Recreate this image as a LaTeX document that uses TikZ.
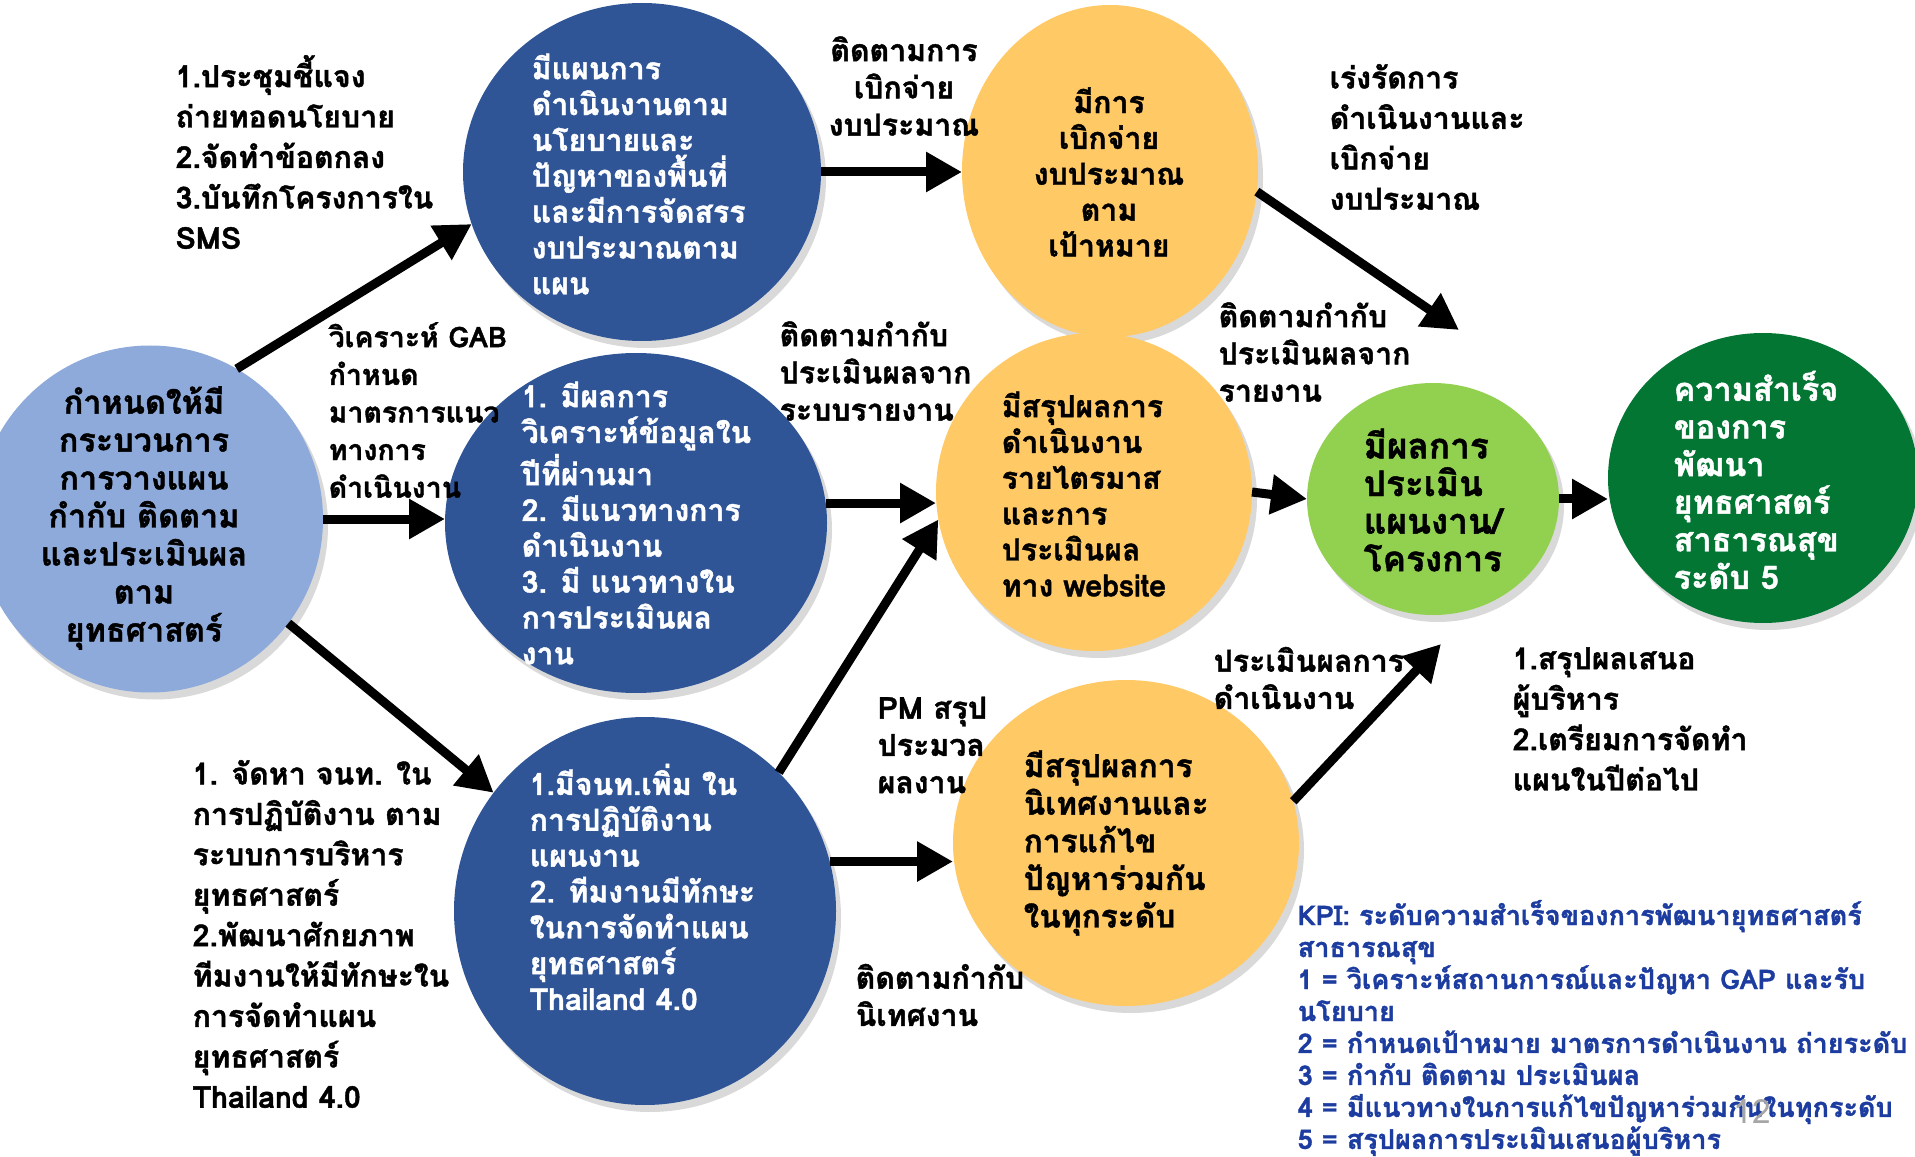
\documentclass[tikz,border=0pt]{standalone}
\usepackage{fontspec}
\setmainfont[Script=Thai, BoldFeatures={FakeBold=1.3}]{Loma}
\usetikzlibrary{arrows.meta,shapes.geometric,shadows}

\definecolor{goalblue}{RGB}{142,170,219}
\definecolor{stepblue}{RGB}{47,85,151}
\definecolor{stepyellow}{RGB}{255,201,102}
\definecolor{evalgreen}{RGB}{146,208,80}
\definecolor{topgreen}{RGB}{3,118,52}
\definecolor{kpiblue}{RGB}{28,60,160}

\begin{document}
\begin{tikzpicture}[
        x=0.1mm, y=-0.1mm,
        blob/.style={ellipse, draw=none, inner sep=0pt, outer sep=0pt,
            drop shadow={shadow xshift=0.5mm, shadow yshift=-0.7mm, opacity=0.3}},
        intext/.style={align=left, inner sep=0pt, font=\bfseries\fontsize{8.6}{10.2}\selectfont},
        lbl/.style={anchor=west, align=left, inner sep=0pt, font=\bfseries\fontsize{8.6}{10.6}\selectfont},
        loose/.style={font=\bfseries\fontsize{8.6}{11.5}\selectfont},
        flow/.style={line width=0.9mm, -{Triangle[length=3.6mm,width=3.8mm]}},
        ]
    \useasboundingbox (0,0) rectangle (1915,1157);

    % circles
    \node (goal) [blob, fill=goalblue, minimum width=34.6mm, minimum height=34.7mm] at (150,519) {};
    \node (plan) [blob, fill=stepblue, minimum width=35.8mm, minimum height=33.8mm] at (642,172) {};
    \node (analysis) [blob, fill=stepblue, minimum width=38.2mm, minimum height=34mm] at (636,523) {};
    \node (team) [blob, fill=stepblue, minimum width=38.2mm, minimum height=38.8mm] at (645,911) {};
    \node (spend) [blob, fill=stepyellow, minimum width=29.6mm, minimum height=33.2mm] at (1110,171) {};
    \node (summary) [blob, fill=stepyellow, minimum width=31.6mm, minimum height=31.8mm] at (1094,492) {};
    \node (solve) [blob, fill=stepyellow, minimum width=34.6mm, minimum height=32.6mm] at (1126,843) {};
    \node (evalplan) [blob, fill=evalgreen, minimum width=25.2mm, minimum height=23.2mm] at (1433,499) {};
    \node (success) [blob, fill=topgreen, minimum width=31mm, minimum height=29mm] at (1763,478) {};

    % texts in the circles
    \node (goaltxt) [intext, align=center, font=\bfseries\fontsize{9.2}{10.8}\selectfont] at (144,518)
        {กำหนดให้มี\\กระบวนการ\\การวางแผน\\กำกับ ติดตาม\\และประเมินผล\\ตาม\\ยุทธศาสตร์};
    \node (plantxt) [intext, text=white, anchor=west] at (531,174)
        {มีแผนการ\\ดำเนินงานตาม\\นโยบายและ\\ปัญหาของพื้นที่\\และมีการจัดสรร\\งบประมาณตาม\\แผน};
    \node (analysistxt) [intext, text=white, anchor=west] at (521,523)
        {1. มีผลการ\\วิเคราะห์ข้อมูลใน\\ปีที่ผ่านมา\\2. มีแนวทางการ\\ดำเนินงาน\\3. มี แนวทางใน\\การประเมินผล\\งาน};
    \node (teamtxt) [intext, text=white, anchor=west] at (529,887)
        {1.มีจนท.เพิ่ม ใน\\การปฏิบัติงาน\\แผนงาน\\2. ทีมงานมีทักษะ\\ในการจัดทำแผน\\ยุทธศาสตร์\\Thailand 4.0};
    \node (spendtxt) [intext, align=center] at (1109,172)
        {มีการ\\เบิกจ่าย\\งบประมาณ\\ตาม\\เป้าหมาย};
    \node (summarytxt) [intext, anchor=west] at (1001,494)
        {มีสรุปผลการ\\ดำเนินงาน\\รายไตรมาส\\และการ\\ประเมินผล\\ทาง website};
    \node (solvetxt) [intext, anchor=west, font=\bfseries\fontsize{9}{10.7}\selectfont] at (1023,843)
        {มีสรุปผลการ\\นิเทศงานและ\\การแก้ไข\\ปัญหาร่วมกัน\\ในทุกระดับ};
    \node (evalplantxt) [intext, anchor=west, font=\bfseries\fontsize{10}{10.7}\selectfont] at (1363,500)
        {มีผลการ\\ประเมิน\\แผนงาน/\\โครงการ};
    \node (successtxt) [intext, text=white, anchor=west, font=\bfseries\fontsize{9.2}{10.7}\selectfont] at (1673,480)
        {ความสำเร็จ\\ของการ\\พัฒนา\\ยุทธศาสตร์\\สาธารณสุข\\ระดับ 5};

    % labels beside the arrows
    \node (brief) [lbl, loose] at (175,152)
        {1.ประชุมชี้แจง\\ถ่ายทอดนโยบาย\\2.จัดทำข้อตกลง\\3.บันทึกโครงการใน\\SMS};
    \node (gab) [lbl, font=\bfseries\fontsize{8.1}{10.7}\selectfont] at (328,410)
        {วิเคราะห์ GAB\\กำหนด\\มาตรการแนว\\ทางการ\\ดำเนินงาน};
    \node (staff) [lbl, loose] at (192,934)
        {1. จัดหา จนท. ใน\\การปฏิบัติงาน ตาม\\ระบบการบริหาร\\ยุทธศาสตร์\\2.พัฒนาศักยภาพ\\ทีมงานให้มีทักษะใน\\การจัดทำแผน\\ยุทธศาสตร์\\Thailand 4.0};
    \node (trackpay) [lbl, anchor=center, align=center] at (904,86)
        {ติดตามการ\\เบิกจ่าย\\งบประมาณ};
    \node (trackreport) [lbl] at (779,371)
        {ติดตามกำกับ\\ประเมินผลจาก\\ระบบรายงาน};
    \node (pm) [lbl] at (877,745)
        {PM สรุป\\ประมวล\\ผลงาน};
    \node (tracksuper) [lbl] at (855,995)
        {ติดตามกำกับ\\นิเทศงาน};
    \node (hurry) [lbl, loose] at (1329,137)
        {เร่งรัดการ\\ดำเนินงานและ\\เบิกจ่าย\\งบประมาณ};
    \node (trackweb) [lbl] at (1218,352)
        {ติดตามกำกับ\\ประเมินผลจาก\\รายงาน};
    \node (evalwork) [lbl] at (1213,678)
        {ประเมินผลการ\\ดำเนินงาน};
    \node (report) [lbl, loose] at (1512,719)
        {1.สรุปผลเสนอ\\ผู้บริหาร\\2.เตรียมการจัดทำ\\แผนในปีต่อไป};
    \node (kpi) [lbl, text=kpiblue, font=\bfseries\fontsize{7.7}{9.1}\selectfont] at (1297,1028)
        {KPI: ระดับความสำเร็จของการพัฒนายุทธศาสตร์\\สาธารณสุข\\1 = วิเคราะห์สถานการณ์และปัญหา GAP และรับ\\นโยบาย\\2 = กำหนดเป้าหมาย มาตรการดำเนินงาน ถ่ายระดับ\\3 = กำกับ ติดตาม ประเมินผล\\4 = มีแนวทางในการแก้ไขปัญหาร่วมกันในทุกระดับ\\5 = สรุปผลการประเมินเสนอผู้บริหาร};
    \node (pageno) [text=black!35, font=\fontsize{9.5}{10}\selectfont] at (1752,1112) {12};

    % arrows
    \coordinate (upend) at (1459,330);
    \coordinate (lowend) at (1441,644);
    \draw[flow] (goal.60) -- (plan.197);
    \draw[flow] (goal.east) -- (goal.east -| analysis.west);
    \draw[flow] (goal.-37) -- (team.142);
    \draw[flow] (plan.east) -- (plan.east -| spend.west);
    \draw[flow] (analysis.6) -- (analysis.6 -| summary.west);
    \draw[flow] (team.46) -- (summary.190);
    \draw[flow] (team.15) -- (team.15 -| solve.west);
    \draw[flow] (spend.-8) -- (upend);
    \draw[flow] (summary.east) -- (evalplan.west);
    \draw[flow] (evalplan.east) -- (evalplan.east -| success.west);
    \draw[flow] (solve.14) -- (lowend);
\end{tikzpicture}
\end{document}
